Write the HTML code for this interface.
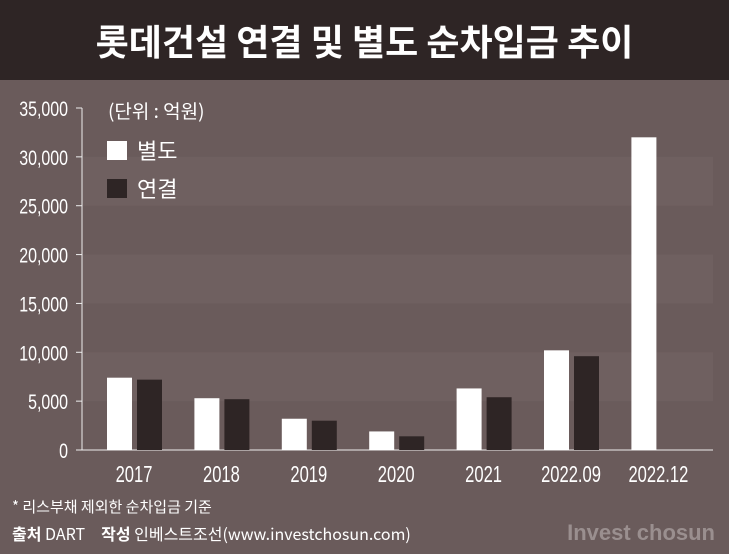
<!DOCTYPE html>
<html><head><meta charset="utf-8"><style>
body{margin:0;width:729px;height:554px;overflow:hidden;background:#6a5b5b;font-family:"Liberation Sans","Noto Sans CJK KR",sans-serif;}
#title{position:absolute;left:0;top:0;width:729px;height:80px;background:#2e2525;color:#fff;font-size:36px;font-weight:bold;text-align:center;line-height:80px;font-family:"Noto Sans CJK KR",sans-serif;}
svg{position:absolute;left:0;top:0}
</style></head><body>
<div id="title">롯데건설 연결 및 별도 순차입금 추이</div>
<svg width="729" height="554">
<g id="stripes"></g>
<g id="axis"></g>
<g id="bars"></g>
<g font-family="Noto Sans CJK KR,sans-serif" fill="#fff">
<text x="108" y="118" font-size="19">(단위 : 억원)</text>
<rect x="107" y="141" width="20" height="19" fill="#fff"/>
<text x="137" y="159" font-size="22">별도</text>
<rect x="107" y="179" width="20" height="19" fill="#2e2525"/>
<text x="137" y="197" font-size="22">연결</text>
</g>
<g font-family="Noto Sans CJK KR,sans-serif" fill="#fff">
<text x="12" y="512" font-size="15">* 리스부채 제외한 순차입금 기준</text>
<text x="12" y="540" font-size="16"><tspan font-weight="bold">출처</tspan> DART　<tspan font-weight="bold">작성</tspan> 인베스트조선(www.investchosun.com)</text>
</g>
<text x="715" y="540" text-anchor="end" font-size="22" font-weight="bold" fill="#9a8f8f" font-family="Liberation Sans,sans-serif">Invest chosun</text>
</svg>
<script>
const categories=["2017","2018","2019","2020","2021","2022.09","2022.12"];
const separate=[7400,5300,3200,1900,6300,10200,32000];
const consolidated=[7200,5200,3000,1400,5400,9600,null];
const ticks=[0,5000,10000,15000,20000,25000,30000,35000];
const tickLabels=["0","5,000","10,000","15,000","20,000","25,000","30,000","35,000"];
const NS="http://www.w3.org/2000/svg";
const y0=450,pxPer=(450-108)/35000;
const y=v=>y0-v*pxPer;
const cx=i=>134+i*87.4;
function mk(t,a,p){const e=document.createElementNS(NS,t);for(const k in a)e.setAttribute(k,a[k]);p.appendChild(e);return e;}
const st=document.getElementById('stripes'),ax=document.getElementById('axis'),bg=document.getElementById('bars');
for(let i=0;i<ticks.length-1;i++){
 if(i%2==1){const r=mk('rect',{x:82,y:y(ticks[i+1]),width:631,height:y(ticks[i])-y(ticks[i+1]),fill:'#6f6060'},st);
 
 }
}
const yl=mk('line',{x1:82,y1:y(35000),x2:82,y2:y0,stroke:'#eee','stroke-width':1},ax);


const xl=mk('line',{x1:76,y1:y0,x2:713,y2:y0,stroke:'#eee','stroke-width':1},ax);


ticks.forEach((t,i)=>{
 mk('line',{x1:76,y1:y(t),x2:82,y2:y(t),stroke:'#eee'},ax);
 const tx=mk('text',{x:68,y:y(t)+8,'text-anchor':'end',fill:'#fff','font-size':21,'font-family':'Liberation Sans,sans-serif',transform:`translate(68 0) scale(0.76 1) translate(-68 0)`},ax);
 tx.textContent=tickLabels[i];
 
 
});
categories.forEach((c,i)=>{
 const x=cx(i);
 const tx=mk('text',{x:x,y:482,'text-anchor':'middle',fill:'#fff','font-size':23,'font-family':'Liberation Sans,sans-serif',transform:`translate(${x} 0) scale(0.72 1) translate(${-x} 0)`},ax);
 tx.textContent=c;
 
 
 const b1=mk('rect',{x:x-27,y:y(separate[i]),width:25,height:y0-y(separate[i]),fill:'#fff'},bg);
 
 
 if(consolidated[i]!=null){
 const b2=mk('rect',{x:x+3,y:y(consolidated[i]),width:25,height:y0-y(consolidated[i]),fill:'#2e2525'},bg);
 
 }
});
</script>
</body></html>
